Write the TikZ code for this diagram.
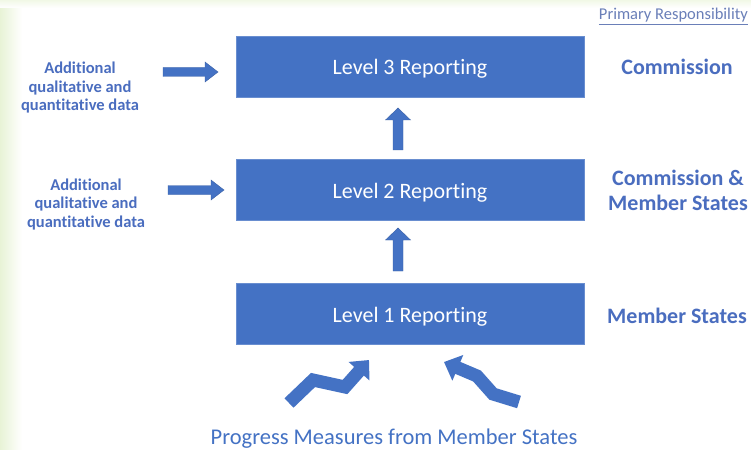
\documentclass[tikz,border=0pt]{standalone}
\usepackage{fontspec}
\setmainfont{Carlito}[Ligatures=NoCommon]
\usetikzlibrary{arrows.meta,calc}
\definecolor{boxblue}{HTML}{4472C4}
\definecolor{txtblue}{HTML}{4A6DBF}
\definecolor{resp}{HTML}{6A7FB8}
\definecolor{greenstrip}{HTML}{E8F3D6}
\tikzset{
  levelbox/.style={fill=boxblue, draw=boxblue!80!white, line width=0.8pt, minimum width=348pt, minimum height=61pt, inner sep=0pt},
  boxtext/.style={text=white, font=\fontsize{22}{26}\selectfont, anchor=base, inner sep=0pt},
  sidetext/.style={text=txtblue, font=\bfseries\fontsize{16.5}{18.5}\selectfont, align=center, anchor=base, inner sep=0pt},
  resptext/.style={text=txtblue, font=\bfseries\fontsize{22}{25}\selectfont, align=center, anchor=base, inner sep=0pt},
  zig/.style={draw=boxblue, line width=13pt, line join=miter, -{Triangle[width=27pt,length=15pt]}},
  blockarrow/.style={fill=boxblue, draw=boxblue!85!black, line width=0.4pt}
}
\begin{document}
\begin{tikzpicture}[x=1pt,y=-1pt]
\useasboundingbox (0,0) rectangle (751,449);
\fill[white] (0,0) rectangle (751,449);
\shade[left color=greenstrip, right color=white] (0,0) rectangle (22,449);
\shade[top color=greenstrip!60!white, bottom color=white] (0,0) rectangle (751,8);

% level boxes
\node[levelbox] (l3) at (410,67) {};
\node[levelbox] (l2) at (410,190) {};
\node[levelbox] (l1) at (410,314) {};
\node[boxtext] (t3) at (410,75) {Level 3 Reporting};
\node[boxtext] (t2) at (410,198) {Level 2 Reporting};
\node[boxtext] (t1) at (410,322) {Level 1 Reporting};

% up arrows
\coordinate (u2b) at (398,150);
\coordinate (u2t) at (398,108);
\fill[blockarrow] ($(u2b)+(-5,0)$) -- ($(u2t)+(-5,12)$) -- ($(u2t)+(-12.5,12)$) -- (u2t) -- ($(u2t)+(12.5,12)$) -- ($(u2t)+(5,12)$) -- ($(u2b)+(5,0)$) -- cycle;
\coordinate (u1b) at (398,271);
\coordinate (u1t) at (398,228);
\fill[blockarrow] ($(u1b)+(-5,0)$) -- ($(u1t)+(-5,12)$) -- ($(u1t)+(-12.5,12)$) -- (u1t) -- ($(u1t)+(12.5,12)$) -- ($(u1t)+(5,12)$) -- ($(u1b)+(5,0)$) -- cycle;

% side texts
\node[sidetext] (a3) at (80,111) {Additional\\qualitative and\\quantitative data};
\node[sidetext] (a2) at (86,227) {Additional\\qualitative and\\quantitative data};

% right arrows
\coordinate (r3a) at (163,72);
\coordinate (r3b) at (218,72);
\fill[blockarrow] ($(r3a)+(0,-4.5)$) -- ($(r3b)+(-13,-4.5)$) -- ($(r3b)+(-13,-10)$) -- (r3b) -- ($(r3b)+(-13,10)$) -- ($(r3b)+(-13,4.5)$) -- ($(r3a)+(0,4.5)$) -- cycle;
\coordinate (r2a) at (168,190);
\coordinate (r2b) at (224,190);
\fill[blockarrow] ($(r2a)+(0,-4.5)$) -- ($(r2b)+(-13,-4.5)$) -- ($(r2b)+(-13,-10)$) -- (r2b) -- ($(r2b)+(-13,10)$) -- ($(r2b)+(-13,4.5)$) -- ($(r2a)+(0,4.5)$) -- cycle;

% responsibility
\node[text=resp, font=\fontsize{16.5}{18}\selectfont, anchor=base east, inner sep=0pt] (pr) at (748,20) {\underline{Primary Responsibility}};
\node[resptext] (c3) at (677,75) {Commission};
\node[resptext] (c2) at (678,210) {Commission \&\\Member States};
\node[resptext] (c1) at (677,323) {Member States};

% bottom
\node[text=boxblue, font=\fontsize{22.5}{26}\selectfont, anchor=base, inner sep=0pt] (pm) at (394,444) {Progress Measures from Member States};
\coordinate (zl0) at (289,403);
\coordinate (zl1) at (313,380);
\coordinate (zl2) at (345,387);
\coordinate (zl3) at (369,360);
\draw[zig] (zl0) -- (zl1) -- (zl2) -- (zl3);
\coordinate (zr0) at (519,402);
\coordinate (zr1) at (493,394);
\coordinate (zr2) at (477,376);
\coordinate (zr3) at (444,362);
\draw[zig] (zr0) -- (zr1) -- (zr2) -- (zr3);
\end{tikzpicture}
\end{document}
